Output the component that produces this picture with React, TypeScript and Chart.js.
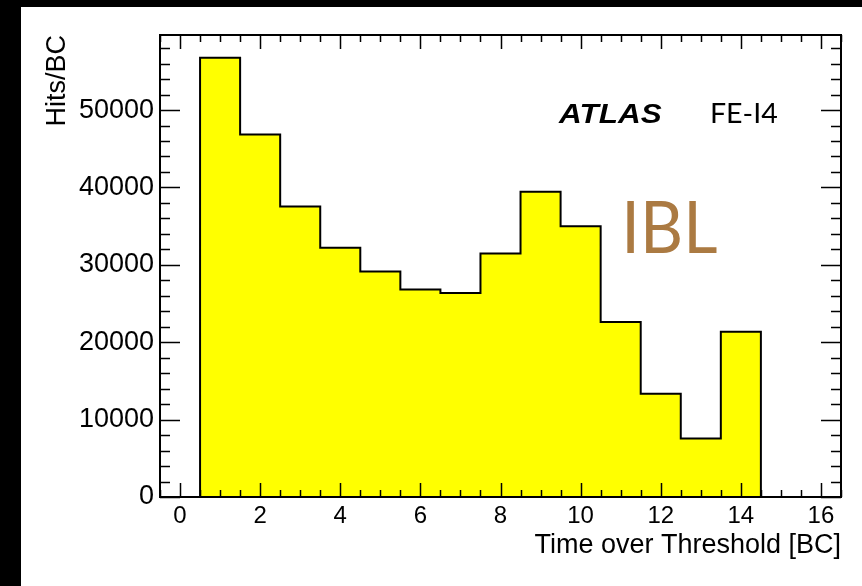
import React, { useEffect, useRef } from "react";
import { Chart, registerables } from "chart.js";

Chart.register(...registerables);

// ---- data ----
const binCenters = [0, 1, 2, 3, 4, 5, 6, 7, 8, 9, 10, 11, 12, 13, 14, 15, 16];
const hitsPerBC = [0, 56750, 46850, 37550, 32200, 29150, 26800, 26350, 31450, 39450, 35000, 22600, 13350, 7550, 21350, 0, 0];
const binWidth = 1;
const xMin = -0.5;
const xMax = 16.5;
const yMin = 0;
const yMax = 59700;
const xTickValues = [0, 2, 4, 6, 8, 10, 12, 14, 16];
const yTickValues = [0, 10000, 20000, 30000, 40000, 50000];
const xMajorStep = 2;
const xMinorStep = 0.5;
const yMajorStep = 10000;
const yMinorStep = 2000;

const xTitle = "Time over Threshold [BC]";
const yTitle = "Hits/BC";
const atlasLabel = "ATLAS";
const chipLabel = "FE-I4";
const detectorLabel = "IBL";

const SANS = "'Liberation Sans', Arial, sans-serif";
const HUMANIST = "Lato, 'Open Sans', sans-serif";

// step outline points built from the bin arrays
const stepPoints: { x: number; y: number }[] = [];
binCenters.forEach((c, i) => {
  stepPoints.push({ x: c - binWidth / 2, y: hitsPerBC[i] });
  stepPoints.push({ x: c + binWidth / 2, y: hitsPerBC[i] });
});

const backgroundPlugin = {
  id: "pageBackground",
  beforeDraw(chart: any) {
    const { ctx, width, height } = chart;
    ctx.save();
    ctx.fillStyle = "#000";
    ctx.fillRect(0, 0, width, height);
    ctx.fillStyle = "#fff";
    ctx.fillRect(21, 7, width - 21, height - 7);
    ctx.restore();
  },
};

const frameTicksPlugin = {
  id: "rootFrame",
  afterDatasetsDraw(chart: any) {
    const { ctx, chartArea } = chart;
    const xs = chart.scales.x;
    const ys = chart.scales.y;
    const { left, right, top, bottom } = chartArea;
    ctx.save();
    ctx.strokeStyle = "#000";
    ctx.lineWidth = 1.5;
    ctx.beginPath();
    const eps = 1e-6;
    for (let v = Math.ceil(xMin / xMinorStep) * xMinorStep; v <= xMax + eps; v += xMinorStep) {
      const px = Math.round(xs.getPixelForValue(v)) + 0.5;
      const isMajor = Math.abs(v / xMajorStep - Math.round(v / xMajorStep)) < eps;
      const len = isMajor ? 14 : 7;
      ctx.moveTo(px, bottom);
      ctx.lineTo(px, bottom - len);
      ctx.moveTo(px, top);
      ctx.lineTo(px, top + len);
    }
    for (let v = yMin; v <= yMax + eps; v += yMinorStep) {
      const py = Math.round(ys.getPixelForValue(v)) + 0.5;
      const isMajor = Math.abs(v / yMajorStep - Math.round(v / yMajorStep)) < eps;
      const len = isMajor ? 20 : 10;
      ctx.moveTo(left, py);
      ctx.lineTo(left + len, py);
      ctx.moveTo(right, py);
      ctx.lineTo(right - len, py);
    }
    ctx.stroke();
    ctx.lineWidth = 2;
    ctx.strokeRect(left, top, right - left, bottom - top);
    ctx.restore();
  },
};

function drawFitted(ctx: CanvasRenderingContext2D, text: string, x: number, baseline: number, font: string, color: string, targetWidth: number) {
  ctx.save();
  ctx.font = font;
  ctx.fillStyle = color;
  ctx.textAlign = "left";
  ctx.textBaseline = "alphabetic";
  const m = ctx.measureText(text);
  const w = m.actualBoundingBoxRight + m.actualBoundingBoxLeft || m.width;
  const sx = targetWidth / w;
  ctx.translate(x, baseline);
  ctx.scale(sx, 1);
  ctx.fillText(text, m.actualBoundingBoxLeft || 0, 0);
  ctx.restore();
}

const labelsPlugin = {
  id: "atlasLabels",
  afterDraw(chart: any) {
    const { ctx } = chart;
    drawFitted(ctx, atlasLabel, 558, 123, `italic bold 28px ${SANS}`, "#000", 104);
    drawFitted(ctx, chipLabel, 712, 123, `27px ${HUMANIST}`, "#000", 65);
    drawFitted(ctx, detectorLabel, 627, 253, `71px ${HUMANIST}`, "#ab7a42", 90);
  },
};

export default function App() {
  const canvasRef = useRef<HTMLCanvasElement | null>(null);

  useEffect(() => {
    document.body.style.margin = "0";
    const canvas = canvasRef.current;
    if (!canvas) return;
    const chart = new Chart(canvas, {
      type: "line",
      data: {
        datasets: [
          {
            data: stepPoints,
            borderColor: "#000",
            borderWidth: 2,
            backgroundColor: "#ffff00",
            fill: "origin",
            pointRadius: 0,
            tension: 0,
          },
        ],
      },
      options: {
        responsive: false,
        animation: false,
        events: [],
        layout: { padding: { left: 0, top: 35, right: 21, bottom: 0 } },
        plugins: { legend: { display: false }, tooltip: { enabled: false } },
        scales: {
          x: {
            type: "linear",
            min: xMin,
            max: xMax,
            afterBuildTicks: (s: any) => {
              s.ticks = xTickValues.map((v) => ({ value: v }));
            },
            afterFit: (s: any) => {
              s.height = 89;
            },
            grid: { display: false, drawTicks: false },
            border: { display: false },
            ticks: {
              autoSkip: false,
              maxRotation: 0,
              padding: 5,
              color: "#000",
              font: { family: SANS, size: 24 },
              callback: (v: any) => String(v),
            },
            title: {
              display: true,
              text: xTitle,
              align: "end",
              color: "#000",
              font: { family: SANS, size: 27 },
              padding: { top: 0, bottom: 24 },
            },
          },
          y: {
            type: "linear",
            min: yMin,
            max: yMax,
            afterBuildTicks: (s: any) => {
              s.ticks = yTickValues.map((v) => ({ value: v }));
            },
            afterFit: (s: any) => {
              s.width = 160;
            },
            grid: { display: false, drawTicks: false },
            border: { display: false },
            ticks: {
              autoSkip: false,
              padding: 6,
              color: "#000",
              font: { family: SANS, size: 27 },
              callback: (v: any) => String(v),
            },
            title: {
              display: true,
              text: yTitle,
              align: "end",
              color: "#000",
              font: { family: SANS, size: 27 },
              padding: { top: 41, bottom: 0 },
            },
          },
        },
      },
      plugins: [backgroundPlugin, frameTicksPlugin, labelsPlugin],
    } as any);
    return () => chart.destroy();
  }, []);

  return (
    <div style={{ position: "fixed", left: 0, top: 0, width: 862, height: 586 }}>
      <canvas ref={canvasRef} width={862} height={586} style={{ display: "block", width: 862, height: 586 }} />
    </div>
  );
}
